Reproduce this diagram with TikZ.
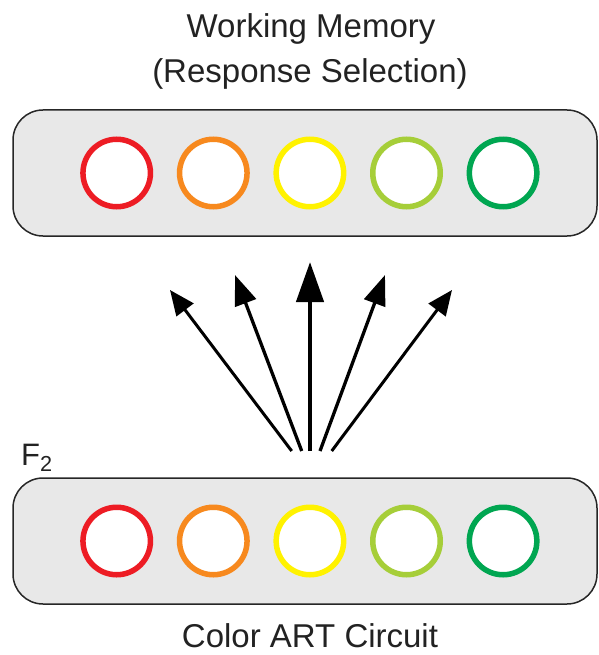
\documentclass[tikz,border=0pt]{standalone}
\usepackage{fontspec}
\setmainfont{Liberation Sans}
\usetikzlibrary{arrows.meta}
\definecolor{cred}{HTML}{ED1C24}
\definecolor{corange}{HTML}{F7891E}
\definecolor{cyellow}{HTML}{FFF200}
\definecolor{clgreen}{HTML}{A6CE39}
\definecolor{cgreen}{HTML}{00A651}
\definecolor{panelfill}{HTML}{E8E8E8}
\definecolor{txt}{HTML}{222222}
\tikzset{
  panel/.style={draw=black!85, line width=1.5pt, fill=panelfill, rounded corners=30pt,
    minimum width=584pt, minimum height=126pt, inner sep=0pt},
  unit/.style={circle, draw=#1, line width=5.5pt, fill=white, minimum size=67.5pt, inner sep=0pt},
  lbl/.style={font=\fontsize{33}{38}\selectfont, text=txt, inner sep=0pt, anchor=base},
}
\begin{document}
\begin{tikzpicture}[x=1pt,y=-1pt]
\useasboundingbox (0,0) rectangle (598,655);
% panels
\node[panel] (wm) at (305,173) {};
\node[panel] (art) at (305,541) {};
% circles
\foreach \c [count=\i] in {cred,corange,cyellow,clgreen,cgreen}{
  \node[unit=\c] (t\i) at ({116.7+96.6*(\i-1)},173) {};
  \node[unit=\c] (b\i) at ({116.7+96.6*(\i-1)},541) {};
}
% labels
\node[lbl] (title1) at (311,38) {Working Memory};
\node[lbl] (title2) at (310,83) {(Response Selection)};
\node[lbl] (title3) at (310,647) {Color ART Circuit};
\node[lbl, anchor=base west, font=\fontsize{31}{34}\selectfont] (f2) at (21,465) {F\textsubscript{2}};
% arrow coordinates
\coordinate (s1) at (291.7,451);
\coordinate (s2) at (301.7,451);
\coordinate (s3) at (310,451);
\coordinate (s4) at (320,451);
\coordinate (s5) at (331.7,451);
\coordinate (e1) at (170,290);
\coordinate (e2) at (235,275);
\coordinate (e3) at (310,262);
\coordinate (e4) at (385,275);
\coordinate (e5) at (452,290);
\draw[line width=3pt, -{Triangle[length=25pt,width=21pt]}] (s1) -- (e1);
\draw[line width=3.3pt, -{Triangle[length=30pt,width=22pt]}] (s2) -- (e2);
\draw[line width=4.5pt, -{Triangle[length=40pt,width=27pt]}] (s3) -- (e3);
\draw[line width=3.3pt, -{Triangle[length=30pt,width=22pt]}] (s4) -- (e4);
\draw[line width=3pt, -{Triangle[length=25pt,width=21pt]}] (s5) -- (e5);
\end{tikzpicture}
\end{document}
